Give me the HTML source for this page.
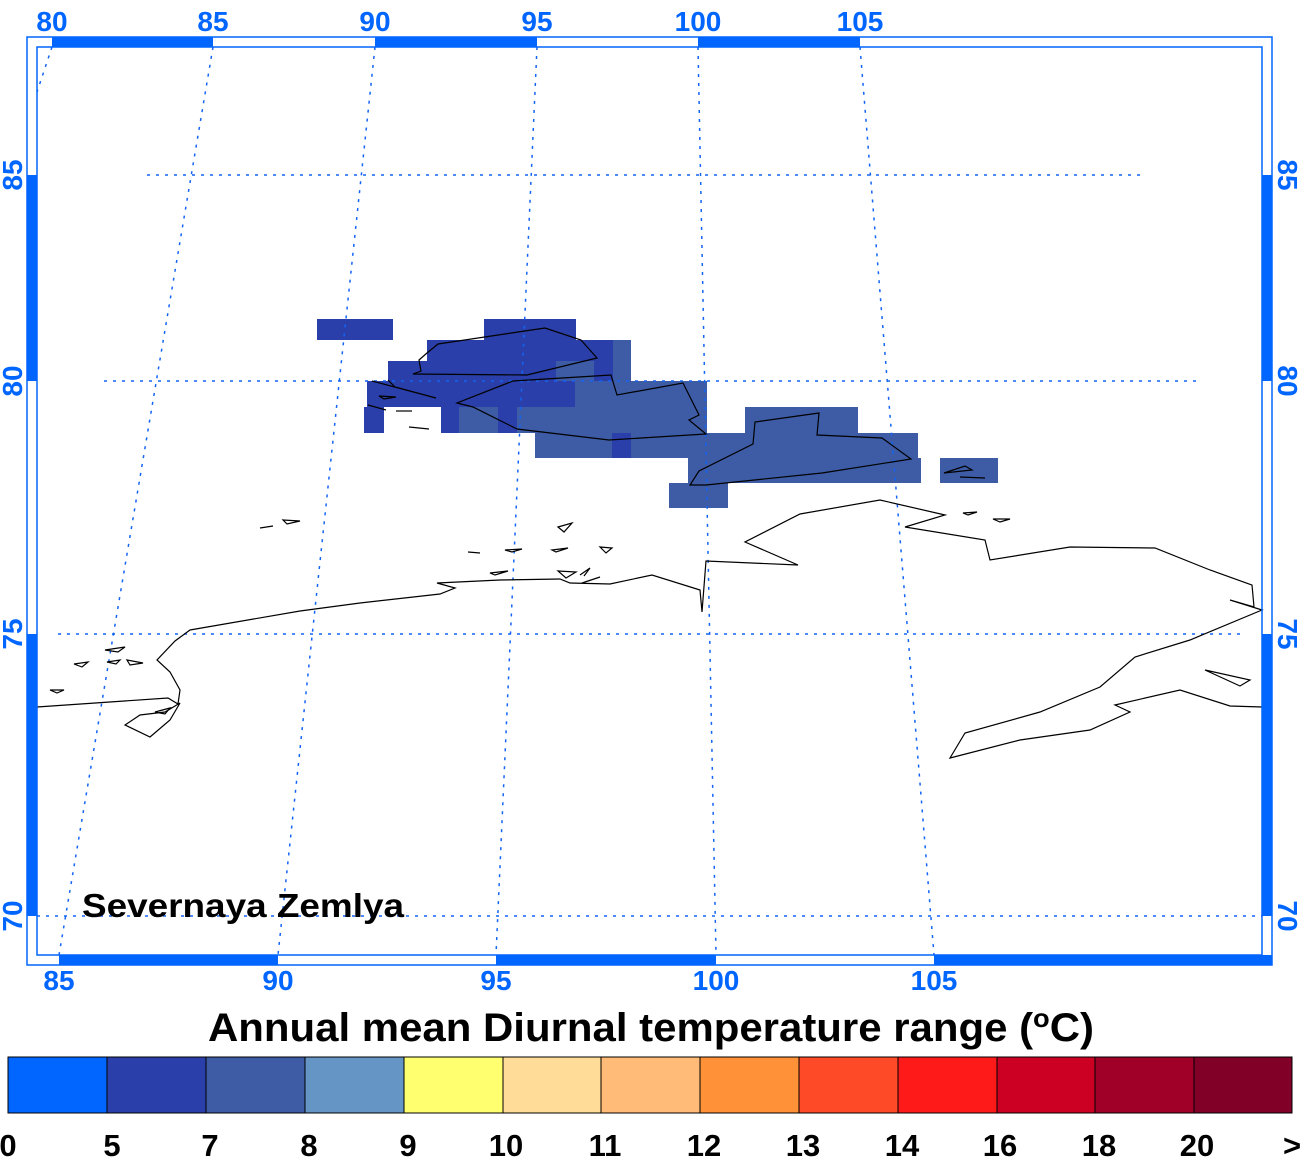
<!DOCTYPE html>
<html><head><meta charset="utf-8"><style>html,body{margin:0;padding:0;background:#fff}svg{display:block}</style></head>
<body>
<svg width="1300" height="1164" viewBox="0 0 1300 1164" xmlns="http://www.w3.org/2000/svg" font-family="Liberation Sans, sans-serif" font-weight="bold">
<g stroke="none">
<g fill="#2a3fa9">
<rect x="317" y="319" width="76" height="21"/>
<rect x="484" y="319" width="92" height="21"/>
<rect x="427" y="340" width="186" height="21"/>
<rect x="388" y="361" width="168" height="20"/>
<rect x="594" y="361" width="19" height="20"/>
<rect x="367" y="381" width="208" height="26"/>
<rect x="364" y="407" width="20" height="26"/>
<rect x="441" y="407" width="18" height="26"/>
<rect x="498" y="407" width="19" height="26"/>
<rect x="612" y="433" width="19" height="25"/>
</g>
<g fill="#3d5ca5">
<rect x="613" y="340" width="18" height="41"/>
<rect x="556" y="361" width="38" height="20"/>
<rect x="575" y="381" width="132" height="52"/>
<rect x="459" y="407" width="39" height="26"/>
<rect x="517" y="407" width="58" height="26"/>
<rect x="535" y="433" width="77" height="25"/>
<rect x="631" y="433" width="57" height="25"/>
<rect x="745" y="407" width="113" height="26"/>
<rect x="688" y="433" width="230" height="25"/>
<rect x="688" y="458" width="233" height="25"/>
<rect x="940" y="458" width="58" height="25"/>
<rect x="669" y="483" width="59" height="25"/>
</g>
</g>
<g stroke="#1464f4" stroke-width="1.5" stroke-dasharray="3,6" fill="none">
<line x1="52" y1="47" x2="37" y2="92"/>
<line x1="213" y1="47" x2="59" y2="955"/>
<line x1="375" y1="47" x2="278" y2="955"/>
<line x1="537" y1="47" x2="496" y2="955"/>
<line x1="698" y1="47" x2="716" y2="955"/>
<line x1="860" y1="47" x2="934" y2="955"/>
<line x1="147" y1="175" x2="1145" y2="175"/>
<line x1="104" y1="381" x2="1196" y2="381"/>
<line x1="58" y1="634" x2="1240" y2="634"/>
<line x1="37" y1="916" x2="1262" y2="916"/>
</g>
<g stroke="#000" stroke-width="1.2" fill="none">
<polyline points="37,707 168,698 178,704 180,690 170,672 157,660 175,641 190,630 300,611 360,603 440,594 455,588 437,583 500,580 560,579 570,583 610,584 652,575 700,590 702,612 706,561 798,565 745,542 800,514 880,500 945,515 905,527 985,540 990,560 1070,547 1155,548 1210,570 1252,585 1254,607 1230,600 1262,610 1190,640 1135,657 1100,687 1040,712 965,733 950,758 1020,740 1090,730 1130,712 1115,705 1180,690 1230,706 1262,707"/>
<polygon points="1205,670 1250,680 1240,686"/>
<polygon points="125,725 150,737 170,720 180,703 165,712 140,715"/>
<polygon points="155,712 170,708 165,714"/>
<polygon points="105,650 125,647 118,652"/>
<polygon points="107,662 120,660 116,664"/>
<polygon points="127,660 143,663 130,665"/>
<polygon points="74,664 88,662 82,667"/>
<polygon points="50,690 64,690 57,693"/>
<polygon points="283,520 300,521 287,524"/>
<line x1="260" y1="528" x2="273" y2="526"/>
<polygon points="558,527 572,523 564,532"/>
<polygon points="505,550 522,549 512,552"/>
<polygon points="552,550 568,548 556,552"/>
<polygon points="600,547 612,548 606,553"/>
<polygon points="558,571 576,572 566,578"/>
<polygon points="490,573 508,571 495,575"/>
<polyline points="580,575 590,568 584,576"/>
<line x1="582" y1="583" x2="600" y2="577"/>
<line x1="468" y1="552" x2="480" y2="553"/>
<polygon points="963,513 977,512 968,515"/>
<polygon points="993,519 1010,519 1000,522"/>
<polygon points="419,360 421,371 413,374 527,375 597,358 581,340 545,328 438,344 427,353"/>
<polygon points="457,403 473,407 517,429 609,440 706,434 689,420 699,415 683,383 617,395 611,375 513,381"/>
<polygon points="690,485 706,485 822,473 911,459 882,438 817,435 819,413 755,422 753,444 699,471"/>
<polyline points="372,381 436,398 395,387 388,380"/>
<polygon points="379,396 396,397 384,399"/>
<line x1="368" y1="405" x2="386" y2="410"/>
<line x1="396" y1="411" x2="412" y2="411"/>
<line x1="409" y1="427" x2="429" y2="429"/>
<polygon points="944,473 965,466 972,470"/>
<line x1="960" y1="477" x2="985" y2="478"/>
</g>
<g fill="#0066ff" stroke="none">
<rect x="52" y="37" width="161" height="10"/>
<rect x="375" y="37" width="162" height="10"/>
<rect x="698" y="37" width="162" height="10"/>
<rect x="27" y="175" width="10" height="206"/>
<rect x="27" y="634" width="10" height="282"/>
<rect x="1262" y="175" width="10" height="206"/>
<rect x="1262" y="634" width="10" height="282"/>
<rect x="59" y="955" width="219" height="10"/>
<rect x="496" y="955" width="220" height="10"/>
<rect x="934" y="955" width="338" height="10"/>
</g>
<g fill="none" stroke="#0066ff" stroke-width="1.5">
<rect x="27" y="37" width="1245" height="928"/>
<rect x="37" y="47" width="1225" height="908"/>
</g>
<g fill="#0066ff" font-size="28" text-anchor="middle">
<text x="52" y="31">80</text><text x="213" y="31">85</text><text x="375" y="31">90</text>
<text x="537" y="31">95</text><text x="698" y="31">100</text><text x="860" y="31">105</text>
<text x="59" y="990">85</text><text x="278" y="990">90</text><text x="496" y="990">95</text>
<text x="716" y="990">100</text><text x="934" y="990">105</text>
<text transform="translate(22,175) rotate(-90)">85</text>
<text transform="translate(22,381) rotate(-90)">80</text>
<text transform="translate(22,634) rotate(-90)">75</text>
<text transform="translate(22,916) rotate(-90)">70</text>
<text transform="translate(1278,175) rotate(90)">85</text>
<text transform="translate(1278,381) rotate(90)">80</text>
<text transform="translate(1278,634) rotate(90)">75</text>
<text transform="translate(1278,916) rotate(90)">70</text>
</g>
<text x="82" y="917" font-size="33" fill="#000" textLength="322" lengthAdjust="spacingAndGlyphs">Severnaya Zemlya</text>
<text x="208" y="1041" font-size="40" fill="#000" textLength="886" lengthAdjust="spacingAndGlyphs">Annual mean Diurnal temperature range (<tspan font-size="26" dy="-14">o</tspan><tspan dy="14">C)</tspan></text>
<g stroke="#000" stroke-width="1">
<rect x="8" y="1057" width="99" height="56" fill="#0066ff"/>
<rect x="107" y="1057" width="99" height="56" fill="#2a3fa9"/>
<rect x="206" y="1057" width="99" height="56" fill="#3d5ca5"/>
<rect x="305" y="1057" width="99" height="56" fill="#6495c5"/>
<rect x="404" y="1057" width="99" height="56" fill="#ffff70"/>
<rect x="503" y="1057" width="98" height="56" fill="#ffdd99"/>
<rect x="601" y="1057" width="99" height="56" fill="#ffbb77"/>
<rect x="700" y="1057" width="99" height="56" fill="#ff9238"/>
<rect x="799" y="1057" width="99" height="56" fill="#ff4a28"/>
<rect x="898" y="1057" width="99" height="56" fill="#ff1a1a"/>
<rect x="997" y="1057" width="98" height="56" fill="#cc0022"/>
<rect x="1095" y="1057" width="99" height="56" fill="#a00028"/>
<rect x="1194" y="1057" width="98" height="56" fill="#800028"/>
</g>
<g fill="#000" font-size="31" text-anchor="middle">
<text x="8" y="1156">0</text><text x="112" y="1156">5</text><text x="210" y="1156">7</text>
<text x="309" y="1156">8</text><text x="408" y="1156">9</text><text x="506" y="1156">10</text>
<text x="605" y="1156">11</text><text x="704" y="1156">12</text><text x="803" y="1156">13</text>
<text x="902" y="1156">14</text><text x="1000" y="1156">16</text><text x="1099" y="1156">18</text>
<text x="1197" y="1156">20</text><text x="1292" y="1156">&gt;</text>
</g>
</svg>
</body></html>
